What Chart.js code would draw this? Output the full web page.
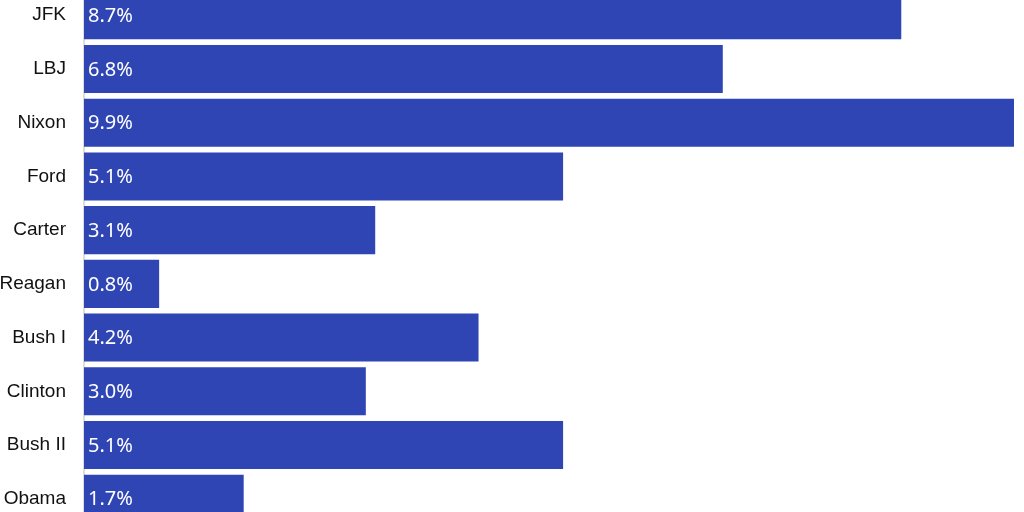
<!DOCTYPE html>
<html>
<head>
<meta charset="utf-8">
<script src="https://cdn.jsdelivr.net/npm/chart.js@4"></script>
<style>
html,body{margin:0;padding:0;background:#fff;overflow:hidden;width:1024px;height:512px;}
#c{position:absolute;left:0;top:-41px;width:1024px;height:596px;}
</style>
</head>
<body>
<canvas id="c" width="1024" height="596"></canvas>
<script>
const presidents = ["JFK","LBJ","Nixon","Ford","Carter","Reagan","Bush I","Clinton","Bush II","Obama"];
const growth = [8.7, 6.8, 9.9, 5.1, 3.1, 0.8, 4.2, 3.0, 5.1, 1.7];
const valueLabels = ["8.7%","6.8%","9.9%","5.1%","3.1%","0.8%","4.2%","3.0%","5.1%","1.7%"];

const labelPlugin = {
  id: 'valueLabels',
  afterDatasetsDraw(chart) {
    const ctx = chart.ctx;
    const meta = chart.getDatasetMeta(0);
    ctx.save();
    ctx.fillStyle = '#ffffff';
    ctx.font = '20px "Noto Sans", sans-serif';
    ctx.textAlign = 'left';
    ctx.textBaseline = 'middle';
    meta.data.forEach((bar, i) => {
      ctx.fillText(valueLabels[i], bar.base + 4, bar.y + 1);
    });
    ctx.restore();
  }
};

new Chart(document.getElementById('c'), {
  type: 'bar',
  data: {
    labels: presidents,
    datasets: [{
      data: growth,
      backgroundColor: '#2f45b4',
      borderWidth: 0,
      categoryPercentage: 1.0,
      barPercentage: 0.895
    }]
  },
  options: {
    indexAxis: 'y',
    responsive: false,
    devicePixelRatio: 1,
    animation: false,
    layout: { padding: { left: 0, right: 10, top: 0, bottom: 0 } },
    plugins: { legend: { display: false }, tooltip: { enabled: false } },
    scales: {
      x: { display: false, min: 0, max: 9.9 },
      y: {
        afterFit(scale) { scale.width = 84; },
        grid: { display: false, drawTicks: false },
        border: { display: true, color: '#dddddd', width: 2 },
        ticks: {
          color: '#111111',
          padding: 18,
          font: { family: '"Liberation Sans", Arial, sans-serif', size: 19 }
        }
      }
    }
  },
  plugins: [labelPlugin]
});
</script>
</body>
</html>
